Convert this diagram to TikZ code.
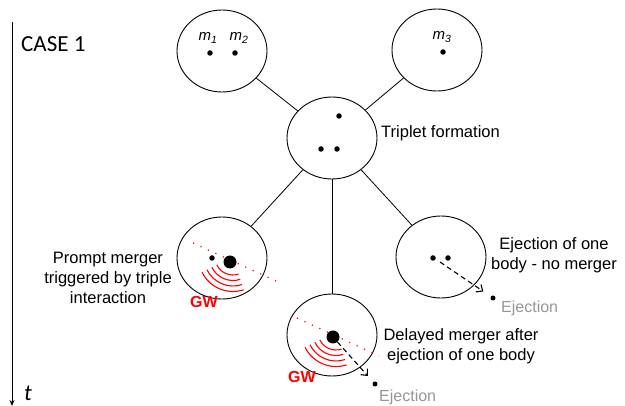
\documentclass[tikz,border=0pt]{standalone}
\usepackage{fontspec}
\setmainfont{Liberation Sans}
\newfontfamily\calib{Carlito}
\usetikzlibrary{shapes.geometric,arrows.meta,calc}
\definecolor{ejgray}{RGB}{150,150,150}
\tikzset{
  stage/.style={ellipse,draw,line width=0.9pt,minimum width=90pt,minimum height=82pt,inner sep=0pt},
  link/.style={line width=0.8pt},
  dot/.style={circle,fill,inner sep=0pt,minimum size=5.5pt},
  bigdot/.style={circle,fill,inner sep=0pt,minimum size=13pt},
  ejdot/.style={circle,fill,inner sep=0pt,minimum size=5pt},
  txt/.style={font=\fontsize{16.5}{20}\selectfont,align=center,inner sep=0pt},
  mlab/.style={font=\fontsize{15}{16}\selectfont\itshape,inner sep=0pt},
  ejtxt/.style={font=\fontsize{16}{18}\selectfont,text=ejgray,inner sep=0pt,anchor=west},
  gwtxt/.style={font=\fontsize{16}{18}\selectfont\bfseries,text=red,inner sep=0pt},
  ejarrow/.style={line width=1.1pt,dash pattern=on 5pt off 3.5pt,-{Straight Barb[length=5pt,width=9pt]}},
  traj/.style={red,line width=1.2pt,dash pattern=on 1.2pt off 7pt},
  gw/.style={red,line width=1.1pt}
}
\begin{document}
\begin{tikzpicture}[x=1pt,y=-1pt]
\useasboundingbox (0,0) rectangle (625,406);
% time axis
\coordinate (t0) at (12,22);
\coordinate (t1) at (12,406);
\draw[line width=0.9pt,-{Stealth[length=6pt,width=5pt]}] (t0) -- (t1);
\node[anchor=west,inner sep=0pt,font=\calib\fontsize{23}{26}\selectfont] (case) at (21,44) {CASE 1};
\node[anchor=west,inner sep=0pt,font=\calib\fontsize{23}{26}\selectfont\itshape] (tlab) at (24,393) {t};

% stages
\node[stage] (A) at (222,51) {};
\node[stage] (B) at (437,50) {};
\node[stage] (C) at (332,138) {};
\node[stage] (P) at (222,258) {};
\node[stage] (E) at (441,257) {};
\node[stage] (D) at (332,335) {};

\draw[link] (A) -- (C);
\draw[link] (B) -- (C);
\draw[link] (C) -- (P);
\draw[link] (C) -- (E);
\draw[link] (C) -- (D);

% top-left
\node[dot] (m1) at (210,53) {};
\node[dot] (m2) at (235,53) {};
\node[mlab] (l1) at (208,38) {m\textsubscript{1}};
\node[mlab] (l2) at (239,38) {m\textsubscript{2}};
% top-right
\node[dot] (m3) at (443,52) {};
\node[mlab] (l3) at (442,37) {m\textsubscript{3}};
% triplet
\node[dot] (c1) at (339,116) {};
\node[dot] (c2) at (321,149) {};
\node[dot] (c3) at (337,149) {};
\node[txt,anchor=west] (ctxt) at (381,133) {Triplet formation};

% prompt merger
\coordinate (pa) at (193,243);
\coordinate (pb) at (276,281);
\draw[traj] (pa) -- (pb);
\node[dot] (p1) at (212,258) {};
\node[bigdot] (p2) at (230,262) {};
\coordinate (pc) at (233,257);
\foreach \r in {18,23.5,29,34.5}
  \draw[gw] ($(pc)+(206:\r pt)$) arc[start angle=206,end angle=288,radius=\r pt];
\node[gwtxt] (pgw) at (204,302) {GW};
\node[txt] (ptxt) at (108,278) {Prompt merger\\triggered by triple\\interaction};

% ejection, no merger
\node[dot] (e1) at (433,258) {};
\node[dot] (e2) at (448,258) {};
\node[ejdot] (ej1) at (493,298) {};
\coordinate (es) at (440,262);
\draw[ejarrow,shorten >=9pt] (es) -- (ej1);
\node[ejtxt] (ejt1) at (501,308) {Ejection};
\node[txt] (etxt) at (554,255) {Ejection of one\\body - no merger};

% delayed merger
\coordinate (da) at (297,318);
\coordinate (db) at (379,356);
\draw[traj] (da) -- (db);
\node[bigdot] (d1) at (333,337) {};
\coordinate (dc) at (336,332);
\foreach \r in {18,23.5,29,34.5}
  \draw[gw] ($(dc)+(206:\r pt)$) arc[start angle=206,end angle=288,radius=\r pt];
\node[gwtxt] (dgw) at (302,377) {GW};
\node[ejdot] (ej2) at (375,384) {};
\draw[ejarrow,shorten >=8pt] (d1) -- (ej2);
\node[ejtxt] (ejt2) at (379,397) {Ejection};
\node[txt] (dtxt) at (461,346) {Delayed merger after\\ejection of one body};
\end{tikzpicture}
\end{document}
